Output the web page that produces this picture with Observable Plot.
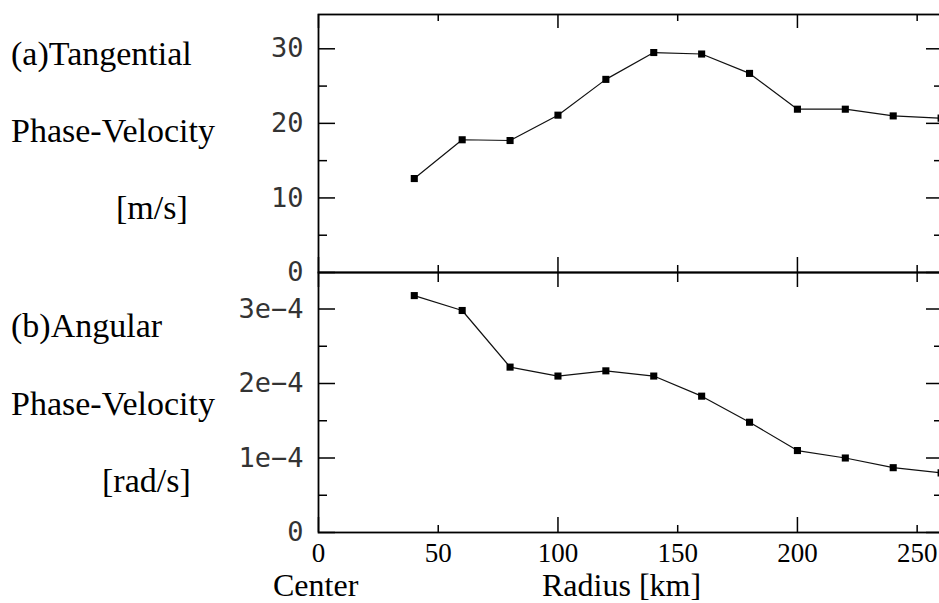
<!DOCTYPE html>
<html>
<head>
<meta charset="utf-8">
<script src="https://cdn.jsdelivr.net/npm/d3@7"></script>
<script src="https://cdn.jsdelivr.net/npm/@observablehq/plot@0.6"></script>
<style>
  html, body { margin: 0; padding: 0; background: #fff; }
  #wrap { position: relative; width: 939px; height: 603px; overflow: hidden; background: #fff; }
  #wrap > div.p { position: absolute; left: 0; }
  #wrap svg { max-width: none !important; }
  .lbl { position: absolute; font-family: "Liberation Serif", "Times New Roman", serif; color: #000; white-space: nowrap; line-height: 0.75; }
</style>
</head>
<body>
<div id="wrap">
  <div class="p" id="top" style="top:0px"></div>
  <div class="p" id="bot" style="top:258px"></div>
</div>
<script>
// ---- data ----
const radius     = [40, 60, 80, 100, 120, 140, 160, 180, 200, 220, 240, 260];
const tangential = [12.6, 17.8, 17.7, 21.1, 25.9, 29.5, 29.3, 26.7, 21.9, 21.9, 21.0, 20.7];
const angular    = [3.18e-4, 2.98e-4, 2.22e-4, 2.10e-4, 2.17e-4, 2.10e-4, 1.83e-4, 1.48e-4, 1.10e-4, 1.00e-4, 0.87e-4, 0.80e-4];

const xMajor  = [0, 100, 200];
const xMinor  = [50, 150, 250];
const xLabels = [0, 50, 100, 150, 200, 250];
const yTicksA = [0, 10, 20, 30];
const yMinorA = [5, 15, 25];
const yTicksB = [0, 1e-4, 2e-4, 3e-4];
const yMinorB = [0.5e-4, 1.5e-4, 2.5e-4];

const textLabels = [
  {text: "(a)Tangential",  x: 11,  base: 65,  size: 34},
  {text: "Phase-Velocity", x: 11,  base: 142, size: 34},
  {text: "[m/s]",          x: 116, base: 219, size: 34},
  {text: "(b)Angular",     x: 11,  base: 337, size: 34},
  {text: "Phase-Velocity", x: 11,  base: 415, size: 34},
  {text: "[rad/s]",        x: 102, base: 492, size: 34},
  {text: "Center",         x: 273, base: 596, size: 32},
  {text: "Radius [km]",    x: 542, base: 596, size: 32}
];

const tableA = radius.map((r, i) => ({r, v: tangential[i]}));
const tableB = radius.map((r, i) => ({r, v: angular[i]}));

const W = 960, ML = 318, MR = W - 943, xDomain = [0, 261];
const PW = W - ML - MR;
const monoFont = "'DejaVu Sans Mono', monospace";
const TW = 1.5;

function fmtB(d) {
  if (d === 0) return "0";
  return Math.round(d * 1e4) + "e\u22124";
}

function panel({data, yDomain, yTicks, yMinor, yFmt, height, marginTop, marginBottom, topTicks, bottomTicks, xText}) {
  const PH = height - marginTop - marginBottom;
  const tk = {stroke: "#000", strokeWidth: TW};
  const marks = [
    Plot.frame({stroke: "#000", strokeWidth: 1.8}),
    // left y ticks (inward)
    Plot.tickY(yTicks, {y: d => d, insetRight: PW - 17, ...tk}),
    Plot.tickY(yMinor, {y: d => d, insetRight: PW - 9, ...tk}),
    // right y ticks (inward)
    Plot.tickY(yTicks, {y: d => d, insetLeft: PW - 17, ...tk}),
    Plot.tickY(yMinor, {y: d => d, insetLeft: PW - 9, ...tk}),
    // top x ticks
    Plot.tickX(xMajor, {x: d => d, insetBottom: PH - topTicks[0], ...tk}),
    Plot.tickX(xMinor, {x: d => d, insetBottom: PH - topTicks[1], ...tk}),
    // bottom x ticks
    Plot.tickX(xMajor, {x: d => d, insetTop: PH - bottomTicks[0], ...tk}),
    Plot.tickX(xMinor, {x: d => d, insetTop: PH - bottomTicks[1], ...tk}),
    // y labels
    Plot.axisY({anchor: "left", ticks: yTicks, tickSize: 0, tickPadding: 15, tickFormat: yFmt, label: null,
                fontSize: 27, fontFamily: monoFont, fill: "#333"}),
    Plot.line(data, {x: "r", y: "v", stroke: "#111", strokeWidth: 1.2}),
    Plot.dot(data, {x: "r", y: "v", symbol: "square", r: 4, fill: "#000", stroke: "none"})
  ];
  if (xText) {
    marks.push(Plot.axisX({anchor: "bottom", ticks: xLabels, tickSize: 0, tickPadding: 10, tickFormat: d => String(d),
      label: null, fontSize: 27, fontFamily: "'Liberation Serif', 'Times New Roman', serif", fill: "#000"}));
  }
  return Plot.plot({
    width: W, height, marginLeft: ML, marginRight: MR, marginTop, marginBottom,
    x: {domain: xDomain, axis: null},
    y: {domain: yDomain, axis: null},
    style: {background: "transparent", overflow: "visible", color: "#000", maxWidth: "none"},
    marks
  });
}

const topPlot = panel({
  data: tableA, yDomain: [0, 34.6], yTicks: yTicksA, yMinor: yMinorA, yFmt: d => String(d),
  height: 290, marginTop: 14, marginBottom: 18, topTicks: [14, 7], bottomTicks: [15, 7], xText: false
});
const botPlot = panel({
  data: tableB, yDomain: [0, 3.49e-4], yTicks: yTicksB, yMinor: yMinorB, yFmt: fmtB,
  height: 345, marginTop: 14, marginBottom: 71, topTicks: [15, 10], bottomTicks: [15, 7], xText: true
});
document.getElementById("top").appendChild(topPlot);
document.getElementById("bot").appendChild(botPlot);

const wrap = document.getElementById("wrap");
for (const t of textLabels) {
  const el = document.createElement("div");
  el.className = "lbl";
  el.textContent = t.text;
  el.style.fontSize = t.size + "px";
  el.style.left = t.x + "px";
  // line-height 0.75em: baseline sits at (0.75 - 1.107)/2 + 0.891 = 0.7125em below the box top
  el.style.top = (t.base - t.size * 0.7125) + "px";
  wrap.appendChild(el);
}
</script>
</body>
</html>
